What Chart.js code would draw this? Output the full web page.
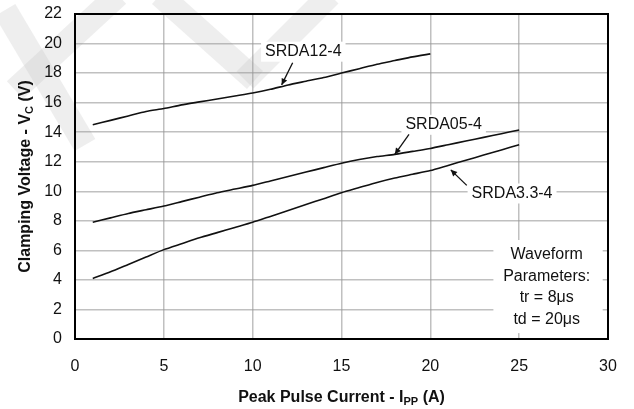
<!DOCTYPE html>
<html>
<head>
<meta charset="utf-8">
<style>
  html, body { margin: 0; padding: 0; background: #fff; }
</style>
<script src="https://cdn.jsdelivr.net/npm/chart.js@4.4.1/dist/chart.umd.min.js"></script>
</head>
<body>
<canvas id="clampChart" width="634" height="409"></canvas>
<script>
// Clamping voltage vs peak pulse current
const currentA12 = [1, 2, 3, 4, 5, 6, 7, 8, 9, 10, 11, 12, 13, 14, 15, 16, 17, 18, 19, 20];
const voltsA12 = [14.5, 14.8, 15.1, 15.4, 15.6, 15.85, 16.05, 16.25, 16.45, 16.65, 16.9, 17.2, 17.45, 17.7, 18.0, 18.3, 18.6, 18.85, 19.1, 19.3];

const currentA05 = [1, 2, 3, 4, 5, 6, 7, 8, 9, 10, 11, 12, 13, 14, 15, 16, 17, 18, 19, 20, 21, 22, 23, 24, 25];
const voltsA05 = [7.9, 8.2, 8.5, 8.75, 9.0, 9.3, 9.6, 9.9, 10.15, 10.4, 10.7, 11.0, 11.3, 11.6, 11.9, 12.15, 12.35, 12.5, 12.7, 12.9, 13.15, 13.4, 13.65, 13.9, 14.15];

const currentA33 = [1, 2, 3, 4, 5, 6, 7, 8, 9, 10, 11, 12, 13, 14, 15, 16, 17, 18, 19, 20, 21, 22, 23, 24, 25];
const voltsA33 = [4.1, 4.55, 5.05, 5.55, 6.05, 6.45, 6.85, 7.2, 7.55, 7.9, 8.3, 8.7, 9.1, 9.5, 9.9, 10.25, 10.6, 10.9, 11.15, 11.4, 11.75, 12.1, 12.45, 12.8, 13.15];

const xTicks = [0, 5, 10, 15, 20, 25, 30];
const yTicks = [0, 2, 4, 6, 8, 10, 12, 14, 16, 18, 20, 22];

const FONT = 'Arial, "Liberation Sans", sans-serif';
const INK = '#111';

function pairs(xs, ys) {
  return xs.map((x, i) => ({ x: x, y: ys[i] }));
}

function curve(label, xs, ys) {
  return {
    label: label,
    data: pairs(xs, ys),
    borderColor: INK,
    borderWidth: 1.6,
    pointRadius: 0,
    tension: 0.2,
    fill: false
  };
}

// draws text made of pieces, some of them subscripts, centred on x
function drawParts(ctx, parts, x, y, size) {
  const subSize = Math.round(size * 0.7);
  let total = 0;
  parts.forEach(p => {
    ctx.font = 'bold ' + (p.sub ? subSize : size) + 'px ' + FONT;
    total += ctx.measureText(p.t).width;
  });
  let cx = x - total / 2;
  ctx.textAlign = 'left';
  ctx.textBaseline = 'alphabetic';
  parts.forEach(p => {
    ctx.font = 'bold ' + (p.sub ? subSize : size) + 'px ' + FONT;
    ctx.fillText(p.t, cx, y + (p.sub ? 3 : 0));
    cx += ctx.measureText(p.t).width;
  });
}

function arrow(ctx, x1, y1, x2, y2) {
  ctx.beginPath();
  ctx.moveTo(x1, y1);
  ctx.lineTo(x2, y2);
  ctx.stroke();
  const a = Math.atan2(y2 - y1, x2 - x1);
  const len = 7, w = 0.45;
  ctx.beginPath();
  ctx.moveTo(x2, y2);
  ctx.lineTo(x2 - len * Math.cos(a - w), y2 - len * Math.sin(a - w));
  ctx.lineTo(x2 - len * Math.cos(a + w), y2 - len * Math.sin(a + w));
  ctx.closePath();
  ctx.fill();
}

function boxedText(ctx, text, x, y) {
  ctx.font = '16px ' + FONT;
  const w = ctx.measureText(text).width;
  ctx.fillStyle = '#fff';
  ctx.fillRect(x - w / 2 - 4, y - 10, w + 8, 20);
  ctx.fillStyle = INK;
  ctx.textAlign = 'center';
  ctx.textBaseline = 'middle';
  ctx.fillText(text, x, y);
}

const decorations = {
  id: 'decorations',
  beforeDraw(chart) {
    const ctx = chart.ctx;
    ctx.save();
    ctx.fillStyle = '#fff';
    ctx.fillRect(0, 0, chart.width, chart.height);
    // faint watermark strokes
    ctx.strokeStyle = 'rgba(200,200,200,0.3)';
    ctx.lineWidth = 24;
    ctx.lineCap = 'butt';
    [[[5, 10], [85, 145]], [[118, -5], [15, 90]], [[160, -5], [255, 80]], [[330, -5], [245, 80]]].forEach(s => {
      ctx.beginPath();
      ctx.moveTo(s[0][0], s[0][1]);
      ctx.lineTo(s[1][0], s[1][1]);
      ctx.stroke();
    });
    ctx.restore();
  },
  afterDatasetsDraw(chart) {
    const ctx = chart.ctx;
    const xs = chart.scales.x, ys = chart.scales.y;
    const a = chart.chartArea;
    const px = v => xs.getPixelForValue(v);
    const py = v => ys.getPixelForValue(v);
    ctx.save();

    // frame on all four sides
    ctx.strokeStyle = '#000';
    ctx.lineWidth = 2;
    ctx.strokeRect(a.left, a.top, a.right - a.left, a.bottom - a.top);

    // curve labels and arrows
    ctx.strokeStyle = INK;
    ctx.fillStyle = INK;
    ctx.lineWidth = 1.3;
    boxedText(ctx, 'SRDA12-4', px(12.85), py(19.45));
    ctx.fillStyle = INK;
    arrow(ctx, px(12.25), py(18.7), px(11.63), py(17.2));
    boxedText(ctx, 'SRDA05-4', px(20.75), py(14.5));
    ctx.fillStyle = INK;
    arrow(ctx, px(18.8), py(13.85), px(18.0), py(12.5));
    boxedText(ctx, 'SRDA3.3-4', px(24.6), py(9.85));
    ctx.fillStyle = INK;
    arrow(ctx, px(22.05), py(10.4), px(21.15), py(11.45));

    // waveform note
    const note = ['Waveform', 'Parameters:', 'tr = 8\u03bcs', 'td = 20\u03bcs'];
    const nx = px(26.55);
    ctx.fillStyle = '#fff';
    ctx.fillRect(px(23.55), py(6.7), px(29.7) - px(23.55), py(0.4) - py(6.7));
    ctx.fillStyle = INK;
    ctx.font = '16px ' + FONT;
    ctx.textAlign = 'center';
    ctx.textBaseline = 'middle';
    note.forEach((t, i) => ctx.fillText(t, nx, py(5.7) + i * 21.5));

    ctx.restore();
  },
  afterDraw(chart) {
    const ctx = chart.ctx;
    const a = chart.chartArea;
    ctx.save();
    ctx.fillStyle = INK;
    drawParts(ctx, [{ t: 'Peak Pulse Current - I' }, { t: 'PP', sub: true }, { t: ' (A)' }],
      (a.left + a.right) / 2, 402, 16);
    ctx.translate(30, (a.top + a.bottom) / 2);
    ctx.rotate(-Math.PI / 2);
    drawParts(ctx, [{ t: 'Clamping Voltage - V' }, { t: 'C', sub: true }, { t: ' (V)' }], 0, 0, 16);
    ctx.restore();
  }
};

const clampCtx = document.getElementById('clampChart').getContext('2d');
const clampChart = new Chart(clampCtx, {
  type: 'line',
  data: {
    datasets: [
      curve('SRDA12-4', currentA12, voltsA12),
      curve('SRDA05-4', currentA05, voltsA05),
      curve('SRDA3.3-4', currentA33, voltsA33)
    ]
  },
  options: {
    responsive: false,
    animation: false,
    layout: { padding: { top: 14, right: 26, left: 0, bottom: 0 } },
    plugins: {
      legend: { display: false },
      tooltip: { enabled: false }
    },
    scales: {
      x: {
        type: 'linear',
        min: xTicks[0],
        max: xTicks[xTicks.length - 1],
        afterBuildTicks: s => { s.ticks = xTicks.map(v => ({ value: v })); },
        afterFit: s => { s.height = 70; s.paddingLeft = 0; s.paddingRight = 0; },
        ticks: { font: { family: FONT, size: 16 }, color: INK, padding: 18, maxRotation: 0 },
        grid: { color: 'rgba(150,150,150,0.6)', lineWidth: 1.5, drawTicks: false },
        border: { color: '#000', width: 2 }
      },
      y: {
        min: yTicks[0],
        max: yTicks[yTicks.length - 1],
        afterBuildTicks: s => { s.ticks = yTicks.map(v => ({ value: v })); },
        afterFit: s => { s.width = 75; s.paddingTop = 0; s.paddingBottom = 0; },
        ticks: { font: { family: FONT, size: 16 }, color: INK, padding: 13 },
        grid: { color: 'rgba(150,150,150,0.6)', lineWidth: 1.5, drawTicks: false },
        border: { color: '#000', width: 2 }
      }
    }
  },
  plugins: [decorations]
});
</script>
</body>
</html>
